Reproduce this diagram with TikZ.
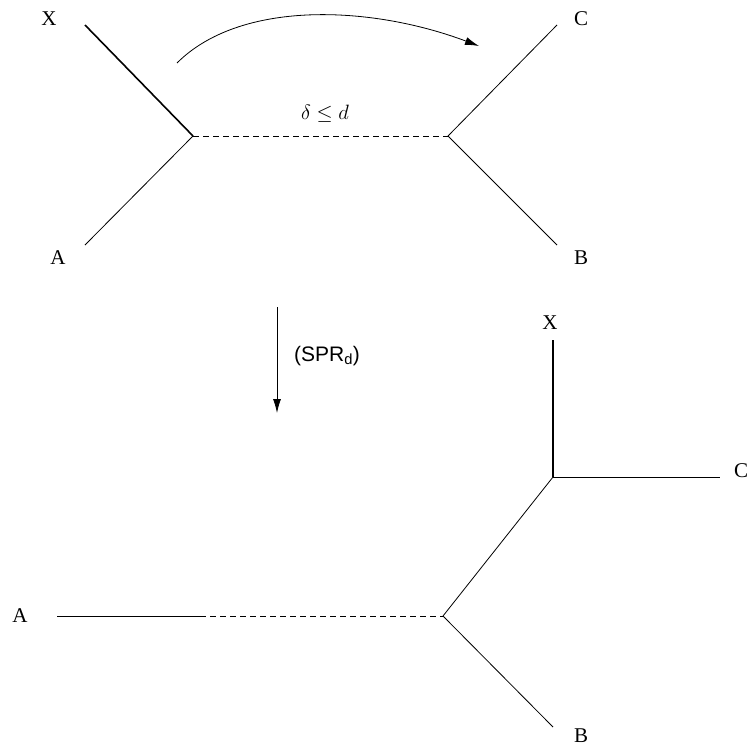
\documentclass[tikz,border=0pt]{standalone}
\usepackage{fontspec}
\setmainfont{Liberation Serif}
\newfontfamily\arialfont{Liberation Sans}
\usetikzlibrary{arrows.meta}
\begin{document}
\begin{tikzpicture}[x=1pt,y=-1pt,
  edge/.style={line width=0.8pt},
  heavy/.style={line width=1.6pt},
  dashedge/.style={line width=0.8pt,dash pattern=on 6pt off 4pt},
  lbl/.style={font=\fontsize{21}{24}\selectfont,inner sep=0pt},
  tip/.style={-{Latex[length=14pt,width=8pt]},line width=0.8pt}]
\useasboundingbox (0,0) rectangle (747,747);
% top
\coordinate (tx) at (85,25);
\coordinate (ta) at (85,245);
\coordinate (tj1) at (193,136);
\coordinate (tj2) at (448,136);
\coordinate (tc) at (557,25);
\coordinate (tb) at (557,245);
\node[lbl] (lx) at (49,19) {X};
\node[lbl] (la) at (58,258) {A};
\node[lbl] (lc) at (581,19) {C};
\node[lbl] (lb) at (581,258) {B};
\draw[heavy] (tx) -- (tj1);
\draw[edge] (ta) -- (tj1);
\draw[dashedge] (tj1) -- (tj2);
\draw[edge] (tj2) -- (tc);
\draw[edge] (tj2) -- (tb);
\node[inner sep=0pt,font=\fontsize{22}{26}\selectfont] (dl) at (325,114) {$\delta\leq d$};
\coordinate (as) at (177,63);
\coordinate (ae) at (479,46);
\draw[tip] (as) .. controls (240,0) and (370,5) .. (ae);
% middle arrow
\coordinate (ms) at (277,307);
\coordinate (me) at (277,413);
\draw[tip] (ms) -- (me);
\node[inner sep=0pt,font=\arialfont\fontsize{21}{24}\selectfont] (spr) at (327,356) {(SPR\textsubscript{d})};
% bottom
\coordinate (bx) at (553,340);
\coordinate (bj1) at (553,477);
\coordinate (bc) at (720,477);
\coordinate (bj2) at (443,616);
\coordinate (bb) at (553,727);
\coordinate (ba) at (57,616);
\coordinate (bm) at (200,616);
\node[lbl] (blx) at (550,323) {X};
\node[lbl] (blc) at (741,471) {C};
\node[lbl] (bla) at (20,616) {A};
\node[lbl] (blb) at (581,736) {B};
\draw[heavy] (bx) -- (bj1);
\draw[edge] (bj1) -- (bc);
\draw[edge] (bj1) -- (bj2);
\draw[edge] (bj2) -- (bb);
\draw[edge] (ba) -- (bm);
\draw[dashedge] (bm) -- (bj2);
\end{tikzpicture}
\end{document}
